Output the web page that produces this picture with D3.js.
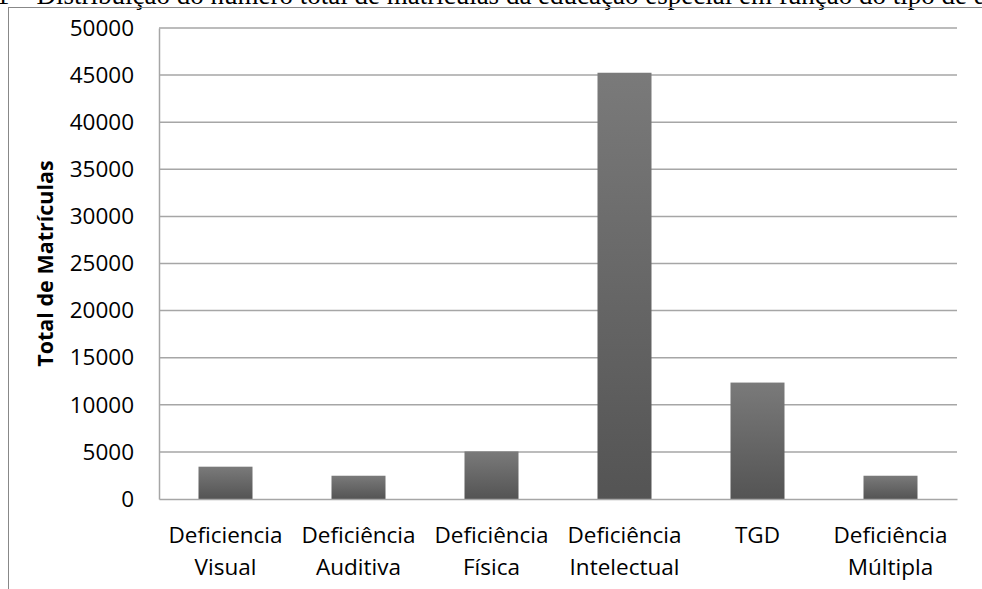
<!DOCTYPE html>
<html>
<head>
<meta charset="utf-8">
<script src="https://cdn.jsdelivr.net/npm/d3@7"></script>
<style>
  body { margin: 0; background: #fff; }
  svg { display: block; }
</style>
</head>
<body>
<div id="chart"></div>
<script>
// data
const categories = [
  ["Deficiencia", "Visual"],
  ["Deficiência", "Auditiva"],
  ["Deficiência", "Física"],
  ["Deficiência", "Intelectual"],
  ["TGD"],
  ["Deficiência", "Múltipla"]
];
const values = [3430, 2470, 5050, 45250, 12360, 2470];
const yTicks = [0, 5000, 10000, 15000, 20000, 25000, 30000, 35000, 40000, 45000, 50000];
const titleText = "1 – Distribuição do número total de matrículas da educação especial em função do tipo de deficiência";
const yLabel = "Total de Matrículas";

const width = 982, height = 589;
const margin = {top: 28, right: 25, bottom: 90, left: 159};

const svg = d3.select("#chart").append("svg")
    .attr("width", width)
    .attr("height", height);

// gradient for bars
const grad = svg.append("defs").append("linearGradient")
    .attr("id", "barGrad")
    .attr("x1", 0).attr("y1", 0).attr("x2", 0).attr("y2", 1);
grad.append("stop").attr("offset", "0%").attr("stop-color", "#7a7a7a");
grad.append("stop").attr("offset", "100%").attr("stop-color", "#545454");

// cut-off caption at the top
svg.append("text")
    .attr("x", -4)
    .attr("y", 4)
    .style("font-family", "'Liberation Serif', 'Times New Roman', serif")
    .style("font-size", "27px")
    .attr("fill", "#000")
    .text(titleText);

// outer frame
svg.append("rect")
    .attr("x", 8.5).attr("y", 7.5)
    .attr("width", 1000).attr("height", 600)
    .attr("fill", "none")
    .attr("stroke", "#888")
    .attr("stroke-width", 1);

const x = d3.scaleBand()
    .domain(d3.range(categories.length))
    .range([margin.left, width - margin.right])
    .paddingInner(0.594)
    .paddingOuter(0.297);

const y = d3.scaleLinear()
    .domain([0, 50000])
    .range([height - margin.bottom, margin.top]);

// gridlines
svg.append("g")
    .selectAll("line")
    .data(yTicks.filter(d => d > 0))
    .enter()
    .append("line")
    .attr("x1", margin.left)
    .attr("x2", width - margin.right)
    .attr("y1", d => y(d))
    .attr("y2", d => y(d))
    .attr("stroke", "#a6a6a6")
    .attr("stroke-width", 1.5);

// y axis
const yAxis = svg.append("g")
    .attr("transform", `translate(${margin.left},0)`)
    .call(d3.axisLeft(y).tickValues(yTicks).tickFormat(d3.format("d")).tickSize(0).tickPadding(25));
yAxis.select(".domain").attr("stroke", "#a6a6a6").attr("stroke-width", 1.5);
yAxis.selectAll("text")
    .style("font-family", "'Open Sans', sans-serif")
    .style("font-size", "22.5px")
    .attr("fill", "#000");

// bars
svg.append("g")
    .selectAll("rect")
    .data(values)
    .enter()
    .append("rect")
    .attr("x", (d, i) => x(i))
    .attr("y", d => y(d))
    .attr("width", x.bandwidth())
    .attr("height", d => y(0) - y(d))
    .attr("fill", "url(#barGrad)");

// x axis
const xAxis = svg.append("g")
    .attr("transform", `translate(0,${y(0)})`)
    .call(d3.axisBottom(x).tickSize(0).tickFormat(""));
xAxis.select(".domain").attr("stroke", "#a6a6a6").attr("stroke-width", 1.5);

// category labels (two lines)
const lab = svg.append("g")
    .selectAll("text")
    .data(categories)
    .enter()
    .append("text")
    .attr("x", (d, i) => x(i) + x.bandwidth() / 2)
    .attr("y", 543)
    .attr("text-anchor", "middle")
    .style("font-family", "'Open Sans', sans-serif")
    .style("font-size", "22.5px")
    .attr("fill", "#000");
lab.selectAll("tspan")
    .data(d => d)
    .enter()
    .append("tspan")
    .attr("x", function() { return this.parentNode.getAttribute("x"); })
    .attr("dy", (d, i) => i === 0 ? 0 : 32)
    .text(d => d);

// y label
svg.append("text")
    .attr("transform", `translate(53,${(y(0) + y(50000)) / 2}) rotate(-90)`)
    .attr("text-anchor", "middle")
    .style("font-family", "'Open Sans', sans-serif")
    .style("font-weight", "bold")
    .style("font-size", "21.5px")
    .attr("fill", "#000")
    .text(yLabel);
</script>
</body>
</html>
